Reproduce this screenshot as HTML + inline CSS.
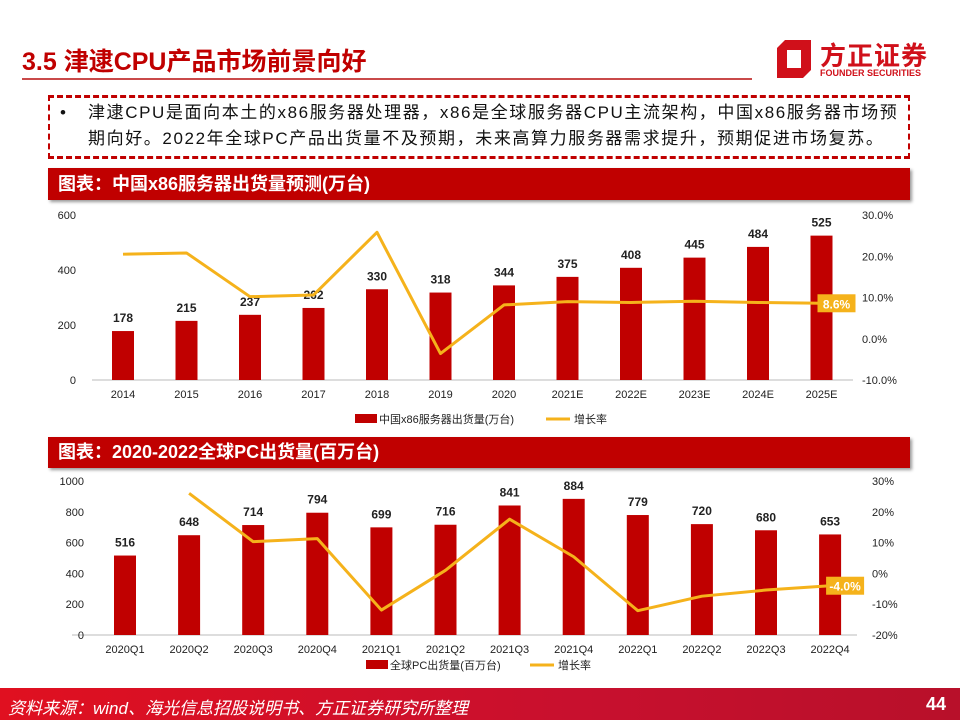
<!DOCTYPE html>
<html><head><meta charset="utf-8">
<style>
body{margin:0;width:960px;height:720px;overflow:hidden;background:#fff;font-family:"Liberation Sans","Noto Sans CJK SC",sans-serif;position:relative}
.abs{position:absolute}
</style></head><body>
<div class="abs" style="left:22px;top:42px;font-size:25px;font-weight:bold;color:#c00000;">3.5 津逮CPU产品市场前景向好</div>
<div class="abs" style="left:22px;top:78px;width:730px;height:2px;background:#c94a4a"></div>
<div class="abs" style="left:775px;top:38px;width:160px;height:44px">
 <svg width="40" height="42" style="position:absolute;left:0;top:0"><path d="M10 2 H36 V32 L28 40 H2 V10 Z M12 12 V30 H26 V12 Z" fill="#d0101a" fill-rule="evenodd"/></svg>
 <div class="abs" style="left:45px;top:-2px;font-size:26px;font-weight:bold;color:#d0101a;letter-spacing:1px">方正证券</div>
 <div class="abs" style="left:45px;top:30px;font-size:9px;font-weight:bold;color:#d0101a">FOUNDER SECURITIES</div>
</div>
<div class="abs" style="left:48px;top:95px;width:858px;height:58px;border:3px dashed #c00000;border-left-width:2px;border-right-width:2px"></div>
<div class="abs" style="left:60px;top:100px;width:850px;font-size:17px;line-height:26px;color:#111;letter-spacing:1.6px;white-space:nowrap">
<span style="position:absolute;left:0">•</span><div style="margin-left:28px">津逮CPU是面向本土的x86服务器处理器，x86是全球服务器CPU主流架构，中国x86服务器市场预<br>期向好。2022年全球PC产品出货量不及预期，未来高算力服务器需求提升，预期促进市场复苏。</div></div>
<div class="abs" style="left:48px;top:168px;width:862px;height:32px;background:#c00000;color:#fff;font-weight:bold;font-size:18px;line-height:32px;padding-left:10px;box-sizing:border-box;box-shadow:2px 2px 3px #999">图表：中国x86服务器出货量预测(万台)</div>
<div class="abs" style="left:48px;top:437px;width:862px;height:31px;background:#c00000;color:#fff;font-weight:bold;font-size:18px;line-height:31px;padding-left:10px;box-sizing:border-box;box-shadow:2px 2px 3px #999">图表：2020-2022全球PC出货量(百万台)</div>
<div class="abs" style="left:0;top:688px;width:960px;height:32px;background:linear-gradient(90deg,#e01020,#c8102e 60%,#b8102a)"></div>
<div class="abs" style="left:8px;top:694px;font-size:17px;font-style:italic;color:#fff">资料来源：wind、海光信息招股说明书、方正证券研究所整理</div>
<div class="abs" style="left:926px;top:694px;font-size:18px;font-weight:bold;color:#fff">44</div>
<svg class="abs" id="svg" style="left:0;top:0" width="960" height="720"></svg>
<script>
const cats1=["2014","2015","2016","2017","2018","2019","2020","2021E","2022E","2023E","2024E","2025E"];
const vals1=[178,215,237,262,330,318,344,375,408,445,484,525];
const rate1=[20.5,20.8,10.2,10.6,25.8,-3.6,8.2,9.0,8.8,9.1,8.8,8.6];
const ticksL1=[0,200,400,600];
const ticksR1=[-10,0,10,20,30];
const cats2=["2020Q1","2020Q2","2020Q3","2020Q4","2021Q1","2021Q2","2021Q3","2021Q4","2022Q1","2022Q2","2022Q3","2022Q4"];
const vals2=[516,648,714,794,699,716,841,884,779,720,680,653];
const rate2=[null,26,10.3,11.3,-11.9,1,17.6,5.4,-12.1,-7.4,-5.4,-4.0];
const ticksL2=[0,200,400,600,800,1000];
const ticksR2=[-20,-10,0,10,20,30];
const S=document.getElementById('svg');const NS="http://www.w3.org/2000/svg";
function mk(t,a,txt){const e=document.createElementNS(NS,t);for(const k in a)e.setAttribute(k,a[k]);if(txt!==undefined)e.textContent=txt;S.appendChild(e);return e;}
function chart(o){
 const yL=v=>o.y0-(v-o.lmin)/(o.lmax-o.lmin)*(o.y0-o.y1);
 const yR=v=>o.y0-(v-o.rmin)/(o.rmax-o.rmin)*(o.y0-o.y1);
 const xc=i=>o.xa+i*o.step;
 let a=mk('line',{x1:o.ax0,x2:o.ax1,y1:o.y0,y2:o.y0,stroke:'#bbb'});
 
 o.tl.forEach(v=>{const t=mk('text',{x:o.lx,y:yL(v)+4,'text-anchor':'end','font-size':11,fill:'#222'},v);
  });
 o.tr.forEach(v=>{const t=mk('text',{x:o.rx,y:yR(v)+4,'font-size':11,fill:'#222'},o.fmt(v));
  });
 o.cats.forEach((c,i)=>{
  const b=mk('rect',{x:xc(i)-11,y:yL(o.vals[i]),width:22,height:o.y0-yL(o.vals[i]),fill:'#c00000'});
  
  const lb=mk('text',{x:xc(i),y:yL(o.vals[i])-9,'text-anchor':'middle','font-size':12,'font-weight':'bold',fill:'#222'},o.vals[i]);
  
  const cl=mk('text',{x:xc(i),y:o.y0+18,'text-anchor':'middle','font-size':11,fill:'#222'},c);
  
 });
 let pts=[];o.rate.forEach((r,i)=>{if(r!==null)pts.push(xc(i)+','+yR(r));});
 const pl=mk('polyline',{points:pts.join(' '),fill:'none',stroke:'#f5b21b','stroke-width':3,'stroke-linejoin':'round'});
 
 const n=o.rate.length-1,ly=yR(o.rate[n]);
 const bx=mk('rect',{x:xc(n)-4,y:ly-9,width:38,height:18,fill:'#f5b21b'});
 
 const bt=mk('text',{x:xc(n)+15,y:ly+5,'text-anchor':'middle','font-size':12,'font-weight':'bold',fill:'#fff'},o.fmt2(o.rate[n]));
 
 const lr=mk('rect',{x:o.lgx,y:o.lgy-5,width:22,height:9,fill:'#c00000'});
 
 const lt=mk('text',{x:o.lgx+24,y:o.lgy+4,'font-size':11,fill:'#222'},o.lg1);
 
 const ll=mk('line',{x1:o.lgx2,x2:o.lgx2+24,y1:o.lgy,y2:o.lgy,stroke:'#f5b21b','stroke-width':3});
 
 const l2=mk('text',{x:o.lgx2+28,y:o.lgy+4,'font-size':11,fill:'#222'},'增长率');
 
}
chart({p:'chart1',cats:cats1,vals:vals1,rate:rate1,tl:ticksL1,tr:ticksR1,lmin:0,lmax:600,rmin:-10,rmax:30,y0:380,y1:215,xa:123,step:63.5,ax0:92,ax1:853,lx:76,rx:862,fmt:v=>v.toFixed(1)+'%',fmt2:v=>v.toFixed(1)+'%',lgx:355,lgx2:546,lgy:419,lg1:'中国x86服务器出货量(万台)'});
chart({p:'chart2',cats:cats2,vals:vals2,rate:rate2,tl:ticksL2,tr:ticksR2,lmin:0,lmax:1000,rmin:-20,rmax:30,y0:635,y1:481,xa:125,step:64.1,ax0:72,ax1:857,lx:84,rx:872,fmt:v=>v+'%',fmt2:v=>v.toFixed(1)+'%',lgx:366,lgx2:530,lgy:665,lg1:'全球PC出货量(百万台)'});
</script>
</body></html>
